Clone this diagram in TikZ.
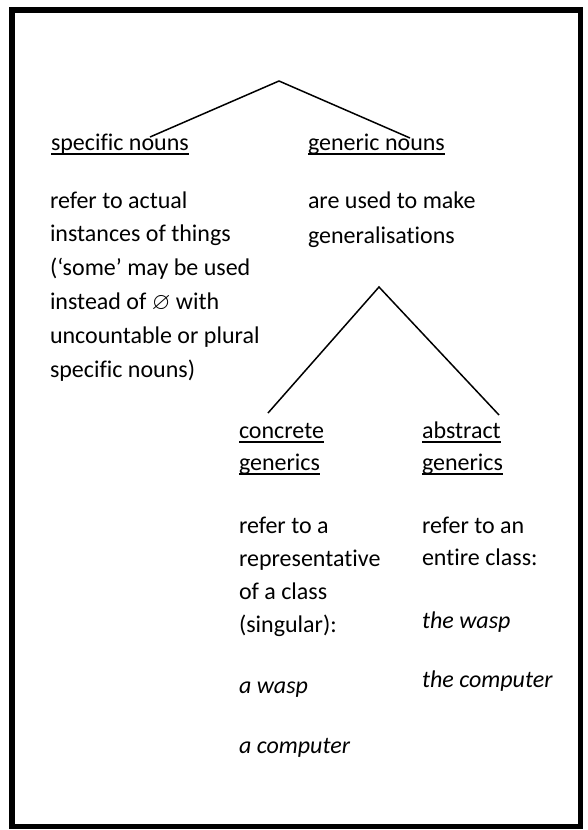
\documentclass[tikz,border=0pt]{standalone}
\usepackage{fontspec}
\usepackage{amssymb}
\setmainfont{Carlito}[Ligatures={CommonOff}]
\newcommand\myul[1]{\setbox0=\hbox{#1}\rlap{\rule[-4.5pt]{\wd0}{1.1pt}}\box0}
\begin{document}
\begin{tikzpicture}[x=1pt,y=-1pt,
  txt/.style={anchor=base west, inner sep=0pt, outer sep=0pt, font=\fontsize{24}{33.8}\selectfont, align=left},
  itx/.style={txt, font=\fontsize{24}{33.8}\selectfont\itshape},
  link/.style={line width=1.5pt}]
\path[use as bounding box] (0,0) rectangle (588,830);
\draw[line width=5.5pt] (12,10) rectangle (580.5,826.5);

% anchor = baseline of the last line of each block
\node[txt] (spec) at (51,150) {\myul{specific nouns}};
\node[txt] (gen) at (308,150) {\myul{generic nouns}};
\node[txt] (specd) at (50,377) {refer to actual\\instances of things\\(‘some’ may be used\\instead of $\varnothing$ with\\uncountable or plural\\specific nouns)};
\node[txt, font=\fontsize{24}{35}\selectfont] (gend) at (308,243) {are used to make\\generalisations};
\node[txt, font=\fontsize{24}{32}\selectfont] (conc) at (239,470) {\myul{concrete}\\\myul{generics}};
\node[txt, font=\fontsize{24}{32}\selectfont] (abst) at (422,470) {\myul{abstract}\\\myul{generics}};
\node[txt, font=\fontsize{24}{33}\selectfont] (concd) at (239,632) {refer to a\\representative\\of a class\\(singular):};
\node[txt, font=\fontsize{24}{32}\selectfont] (abstd) at (422,565) {refer to an\\entire class:};
\node[itx] (cw) at (239,693) {a wasp};
\node[itx] (cc) at (239,753) {a computer};
\node[itx] (aw) at (422,628) {the wasp};
\node[itx] (ac) at (422,687) {the computer};

\coordinate (top1) at (279,81);
\coordinate (e1) at (150,137);
\coordinate (e2) at (410,138);
\coordinate (top2) at (379,287);
\coordinate (e3) at (268,413);
\coordinate (e4) at (499,415);
\draw[link] (e1) -- (top1) -- (e2);
\draw[link] (e3) -- (top2) -- (e4);
\end{tikzpicture}
\end{document}
